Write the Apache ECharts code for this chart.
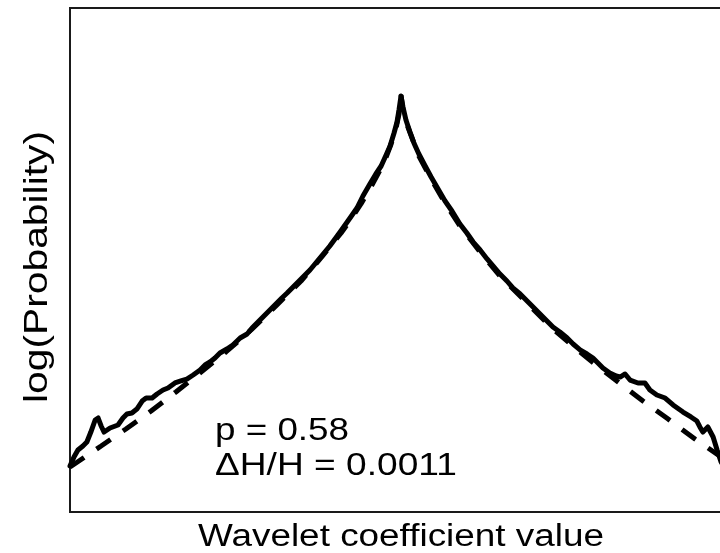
<!DOCTYPE html>
<html>
<head>
<meta charset="utf-8">
<script src="https://cdn.jsdelivr.net/npm/echarts@6/dist/echarts.min.js"></script>
<style>
html,body{margin:0;padding:0;background:#fff;overflow:hidden;width:720px;height:553px;}
#chart{width:760px;height:553px;}
</style>
</head>
<body>
<div id="chart"></div>
<script>
// Empirical log-probability (solid) of wavelet coefficients
const empiricalX = [-1.000,-0.988,-0.976,-0.961,-0.949,-0.937,-0.924,-0.915,-0.906,-0.897,-0.879,-0.855,-0.840,-0.828,-0.813,-0.798,-0.782,-0.770,-0.752,-0.737,-0.719,-0.704,-0.683,-0.665,-0.647,-0.628,-0.607,-0.592,-0.577,-0.562,-0.547,-0.526,-0.508,-0.486,-0.465,-0.450,-0.435,-0.420,-0.405,-0.390,-0.375,-0.360,-0.344,-0.326,-0.305,-0.275,-0.245,-0.215,-0.184,-0.154,-0.133,-0.115,-0.094,-0.076,-0.060,-0.045,-0.033,-0.021,-0.012,-0.006,0.000,0.006,0.015,0.027,0.039,0.054,0.073,0.091,0.112,0.133,0.154,0.178,0.199,0.218,0.239,0.260,0.278,0.299,0.320,0.338,0.360,0.381,0.399,0.420,0.441,0.459,0.480,0.502,0.520,0.541,0.562,0.580,0.595,0.610,0.631,0.650,0.662,0.677,0.692,0.716,0.737,0.752,0.773,0.798,0.822,0.852,0.876,0.894,0.903,0.912,0.927,0.943,0.955,0.967,0.982];
const empiricalY = [-5.452,-5.345,-5.262,-5.214,-5.167,-5.048,-4.905,-4.881,-4.976,-5.048,-5.000,-4.964,-4.881,-4.833,-4.821,-4.774,-4.679,-4.643,-4.643,-4.595,-4.548,-4.524,-4.464,-4.440,-4.417,-4.369,-4.310,-4.250,-4.214,-4.167,-4.107,-4.060,-4.012,-3.929,-3.881,-3.810,-3.750,-3.690,-3.631,-3.571,-3.512,-3.452,-3.393,-3.321,-3.238,-3.119,-2.976,-2.833,-2.667,-2.500,-2.381,-2.238,-2.095,-1.976,-1.881,-1.750,-1.643,-1.488,-1.357,-1.214,-1.048,-1.179,-1.333,-1.476,-1.607,-1.738,-1.881,-2.012,-2.155,-2.298,-2.417,-2.571,-2.679,-2.786,-2.881,-2.988,-3.071,-3.167,-3.250,-3.333,-3.405,-3.488,-3.560,-3.643,-3.726,-3.798,-3.857,-3.929,-4.000,-4.071,-4.119,-4.167,-4.226,-4.286,-4.345,-4.381,-4.393,-4.357,-4.429,-4.464,-4.464,-4.548,-4.607,-4.643,-4.726,-4.810,-4.869,-4.917,-4.988,-5.048,-4.988,-5.107,-5.262,-5.405,-5.500];

// Generalized Gaussian fit (dashed)
const fitX = [-1.000,-0.906,-0.831,-0.755,-0.680,-0.604,-0.529,-0.453,-0.378,-0.302,-0.242,-0.181,-0.151,-0.121,-0.091,-0.060,-0.045,-0.030,-0.015,-0.006,0.000,0.006,0.015,0.030,0.054,0.091,0.133,0.178,0.239,0.299,0.381,0.459,0.541,0.601,0.656,0.731,0.807,0.888,0.967,1.000];
const fitY = [-5.464,-5.214,-5.012,-4.798,-4.571,-4.333,-4.095,-3.833,-3.548,-3.250,-2.976,-2.679,-2.512,-2.333,-2.131,-1.905,-1.774,-1.619,-1.429,-1.262,-1.036,-1.214,-1.357,-1.512,-1.762,-2.036,-2.321,-2.595,-2.905,-3.190,-3.512,-3.821,-4.095,-4.286,-4.452,-4.679,-4.893,-5.131,-5.345,-5.435];

const xTitle = 'Wavelet coefficient value';
const yTitle = 'log(Probability)';
const noteLines = ['p = 0.58', '\u0394H/H = 0.0011'];

const FONT = '"Liberation Sans", Arial, Helvetica, sans-serif';

const chart = echarts.init(document.getElementById('chart'), null, {renderer: 'canvas'});

const hiddenAxis = {
  axisLine: {show: false},
  axisTick: {show: false},
  axisLabel: {show: false},
  splitLine: {show: false}
};

function textEl(txt, x, y, size, sx, align, rot) {
  return {
    type: 'text',
    x: x, y: y,
    rotation: rot || 0,
    scaleX: sx,
    silent: true,
    style: {
      text: txt,
      font: size + 'px ' + FONT,
      fill: '#000',
      align: align, textAlign: align,
      verticalAlign: 'middle', textVerticalAlign: 'middle'
    }
  };
}

chart.setOption({
  animation: false,
  backgroundColor: '#fff',
  grid: {
    left: 70, top: 8, width: 662, height: 504,
    show: true, borderColor: '#1a1a1a', borderWidth: 2,
    backgroundColor: 'transparent'
  },
  xAxis: Object.assign({type: 'value', min: -1, max: 1}, hiddenAxis),
  yAxis: Object.assign({type: 'value', min: -6, max: 0}, hiddenAxis),
  series: [
    {
      name: 'fit', type: 'line', showSymbol: false, symbol: 'none',
      data: fitX.map((v, i) => [v, fitY[i]]),
      lineStyle: {color: '#000', width: 5, type: [17, 15], cap: 'butt'},
      clip: true, z: 2
    },
    {
      name: 'empirical', type: 'line', showSymbol: false, symbol: 'none',
      data: empiricalX.map((v, i) => [v, empiricalY[i]]),
      lineStyle: {color: '#000', width: 5, join: 'round', cap: 'round'},
      clip: true, z: 3
    }
  ],
  graphic: [
    textEl(noteLines[0], 215, 431, 32, 1.15, 'left'),
    textEl(noteLines[1], 215, 466, 32, 1.16, 'left'),
    textEl(xTitle, 401, 537, 31, 1.19, 'center'),
    textEl(yTitle, 38, 267, 34, 1.2, 'center', Math.PI / 2)
  ]
});
</script>
</body>
</html>
